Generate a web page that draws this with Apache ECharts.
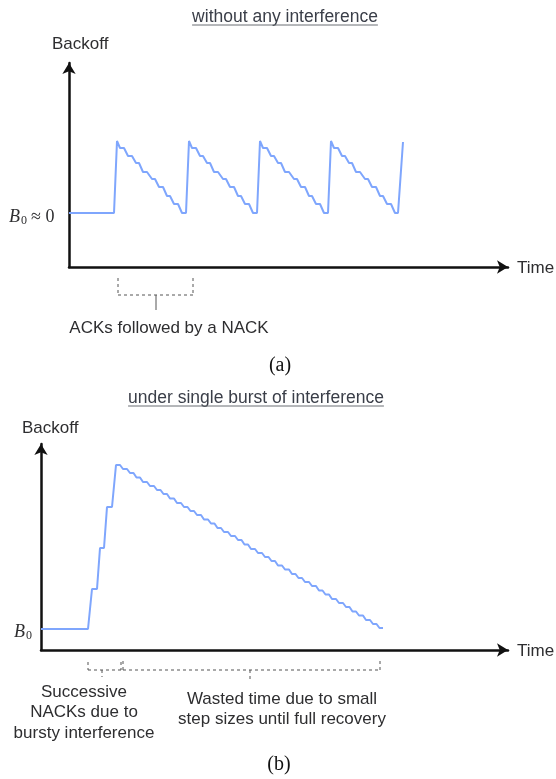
<!DOCTYPE html>
<html><head><meta charset="utf-8">
<script src="https://cdn.jsdelivr.net/npm/echarts@6/dist/echarts.min.js"></script>
<style>html,body{margin:0;padding:0;background:#fff}#c{width:556px;height:779px}</style>
</head><body><div id="c"></div><script>
// Panel (a): without any interference — time / backoff readings
const timeA = [0,45,48,51,55,59,63,67,70,74,78,83,86,90,94,98,101,105,109,113,117,
  120,123,127,131,134,138,141,145,149,154,157,161,165,169,172,176,180,184,188,
  191,194,198,202,205,209,212,216,220,225,228,232,236,240,243,247,251,255,259,
  262,265,269,273,276,280,283,287,291,296,299,303,307,311,314,318,322,326,329,
  334];
const backoffA = [54,54,126,119,119,111,111,104,104,95,95,88,88,80,80,71,71,63,63,54,54,
  126,119,119,111,111,104,104,95,95,88,88,80,80,71,71,63,63,54,54,
  126,119,119,111,111,104,104,95,95,88,88,80,80,71,71,63,63,54,54,
  126,119,119,111,111,104,104,95,95,88,88,80,80,71,71,63,63,54,54,
  125];
// Panel (b): under single burst of interference
const timeB = [0,47,51,56,59,63,66,71,75,79,
  82,86,89,92.5,95.5,99,102,106,109,113,116,119.5,122.5,126,129,133,136,140,143,146.5,
  149.5,153,156,160,163,167,170,173.5,176.5,180,183,187,190,194,197,200.5,203.5,207,
  210,214,217,221,224,227.5,230.5,234,237,241,244,248,251,254.5,257.5,261,264,268,
  271,275,278,281.5,284.5,288,291,295,298,302,305,308.5,311.5,315,318,322,325,329,
  332,335.5,338.5,342];
const backoffB = [21,21,61,61,102,102,143,143,185,185,
  181,181,177,177,172.5,172.5,168,168,164,164,160,160,156,156,151.5,151.5,147,147,143,143,
  139,139,135,135,130.5,130.5,126.5,126.5,122,122,118,118,114,114,110,110,105.5,105.5,
  101,101,97,97,93,93,89,89,84.5,84.5,80.5,80.5,76,76,72,72,68,68,
  64,64,59.5,59.5,55.5,55.5,51,51,47,47,43,43,38.5,38.5,34.5,34.5,30,30,
  26,26,22,22];
// Annotation brackets (time units): [start, end, centre]
const bracketA = [49, 124, 87];
const bracketB1 = [47, 80, 61];
const bracketB2 = [82, 339, 209];

const titleA = 'without any interference';
const titleB = 'under single burst of interference';
const yName = 'Backoff';
const xName = 'Time';
const noteA = 'ACKs followed by a NACK';
const noteB1 = ['Successive', 'NACKs due to', 'bursty interference'];
const noteB2 = ['Wasted time due to small', 'step sizes until full recovery'];

const chart = echarts.init(document.getElementById('c'), null, {renderer: 'canvas'});
const axisLine = {show: true, onZero: false, symbol: ['none', 'arrow'], symbolSize: [10, 11],
  lineStyle: {color: '#111', width: 2.5}};
const hidden = {axisTick: {show: false}, axisLabel: {show: false}, splitLine: {show: false}};
const lineColor = '#7fa6fd';
chart.setOption({
  animation: false,
  grid: [{left: 69, top: 63, width: 439, height: 204}, {left: 41, top: 444, width: 467, height: 206}],
  xAxis: [
    Object.assign({type: 'value', gridIndex: 0, min: 0, max: 439, axisLine}, hidden),
    Object.assign({type: 'value', gridIndex: 1, min: 0, max: 467, axisLine}, hidden)
  ],
  yAxis: [
    Object.assign({type: 'value', gridIndex: 0, min: 0, max: 204, axisLine}, hidden),
    Object.assign({type: 'value', gridIndex: 1, min: 0, max: 206, axisLine}, hidden)
  ],
  series: [
    {type: 'line', xAxisIndex: 0, yAxisIndex: 0, symbol: 'none', clip: false,
     data: timeA.map((t, i) => [t, backoffA[i]]), lineStyle: {color: lineColor, width: 2}},
    {type: 'line', xAxisIndex: 1, yAxisIndex: 1, symbol: 'none', clip: false,
     data: timeB.map((t, i) => [t, backoffB[i]]), lineStyle: {color: lineColor, width: 2}}
  ]
});

const SANS = '"Liberation Sans", Arial, sans-serif';
const SERIF = '"Liberation Serif", "Times New Roman", serif';
const txtColor = '#2e2e30';
const mctx = document.createElement('canvas').getContext('2d');
function tw(t, font) { mctx.font = font; return mctx.measureText(t).width; }
function text(t, x, y, font, align, fill) {
  return {type: 'text', x: x, y: y, silent: true,
    style: {text: t, font: font, fill: fill || txtColor, textAlign: align || 'center', textVerticalAlign: 'middle'}};
}
function line(x1, y1, x2, y2, dash, color) {
  return {type: 'line', silent: true, shape: {x1, y1, x2, y2},
    style: {stroke: color || '#555', lineWidth: 1, lineDash: dash || null}};
}
function px(grid, v) { return chart.convertToPixel({xAxisIndex: grid}, v); }
function bracket(grid, b, yTop, yH, yTick, tickDash) {
  const x0 = px(grid, b[0]), x1 = px(grid, b[1]), xc = px(grid, b[2]);
  const d = [3, 3];
  return [line(x0, yTop, x0, yH, d), line(x1, yTop, x1, yH, d), line(x0, yH, x1, yH, d),
          line(xc, yH, xc, yTick, tickDash)];
}
function titled(t, cx, cy) {
  const f = '17.5px ' + SANS;
  const w = tw(t, f);
  return [text(t, cx, cy, f, 'center', '#3a3e48'), line(cx - w / 2, cy + 8, cx + w / 2, cy + 8, null, '#6b6e75')];
}
const F = '17px ' + SANS;
const g = [];
g.push(...titled(titleA, 285, 17));
g.push(text(yName, 52, 44, F, 'left'));
g.push(text(xName, 517, 268, F, 'left'));
g.push(text('B', 9, 217, 'italic 18px ' + SERIF, 'left'));
g.push(text('0', 21, 221, '12px ' + SERIF, 'left'));
g.push(text('≈ 0', 31, 217, '18px ' + SERIF, 'left'));
g.push(...bracket(0, bracketA, 278, 295, 310, null));
g.push(text(noteA, 169, 328, F, 'center'));
g.push(text('(a)', 280, 366, '20px ' + SERIF, 'center', '#111'));

g.push(...titled(titleB, 256, 398));
g.push(text(yName, 22, 428, F, 'left'));
g.push(text(xName, 517, 651, F, 'left'));
g.push(text('B', 14, 632, 'italic 18px ' + SERIF, 'left'));
g.push(text('0', 26, 636, '12px ' + SERIF, 'left'));
g.push(...bracket(1, bracketB1, 662, 670, 677, [3, 3]));
g.push(...bracket(1, bracketB2, 661, 670, 679, [3, 3]));
noteB1.forEach((s, i) => g.push(text(s, 84, 692 + i * 20.5, F, 'center')));
noteB2.forEach((s, i) => g.push(text(s, 282, 699 + i * 20.5, F, 'center')));
g.push(text('(b)', 279, 765, '20px ' + SERIF, 'center', '#111'));
chart.setOption({graphic: g});
</script></body></html>
